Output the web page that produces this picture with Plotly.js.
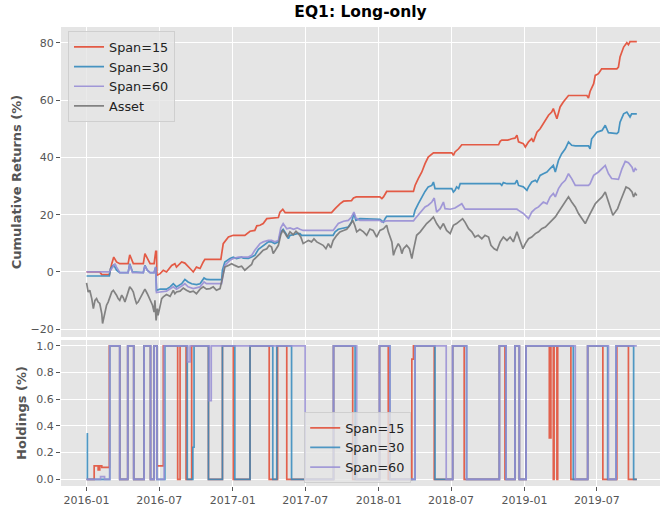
<!DOCTYPE html>
<html>
<head>
<meta charset="utf-8">
<script src="https://cdn.plot.ly/plotly-3.0.1.min.js"></script>
<style>html,body{margin:0;padding:0;background:#fff;}#chart{width:660px;height:511px;}</style>
</head>
<body>
<div id="chart"></div>
<script>
// ---------- Cumulative returns (%) ----------
var span15Dates = ['2016-01-01','2016-02-03','2016-02-08','2016-02-27','2016-03-04','2016-03-09','2016-03-16','2016-03-24','2016-04-14','2016-04-18','2016-04-27','2016-05-22','2016-05-26','2016-06-01','2016-06-08','2016-06-18','2016-06-22','2016-06-24','2016-06-25','2016-07-03','2016-07-11','2016-07-19','2016-08-01','2016-08-09','2016-08-13','2016-08-26','2016-09-03','2016-09-16','2016-09-24','2016-10-02','2016-10-11','2016-10-19','2016-10-23','2016-12-02','2016-12-08','2016-12-21','2017-01-02','2017-01-31','2017-02-13','2017-02-25','2017-03-02','2017-03-10','2017-03-18','2017-03-27','2017-04-25','2017-04-29','2017-05-06','2017-05-12','2017-09-05','2017-09-14','2017-09-26','2017-10-05','2017-10-25','2017-10-30','2017-11-06','2018-01-04','2018-01-09','2018-01-13','2018-01-21','2018-03-29','2018-04-02','2018-04-10','2018-04-19','2018-04-27','2018-05-05','2018-05-18','2018-07-03','2018-07-07','2018-07-11','2018-07-20','2018-07-28','2018-10-28','2018-11-01','2018-11-05','2018-11-20','2018-11-30','2018-12-08','2018-12-13','2018-12-17','2018-12-29','2019-01-03','2019-01-11','2019-01-19','2019-01-23','2019-02-01','2019-02-09','2019-02-17','2019-02-22','2019-03-02','2019-03-10','2019-03-14','2019-03-23','2019-03-31','2019-04-08','2019-04-17','2019-04-21','2019-06-06','2019-06-10','2019-06-14','2019-06-23','2019-06-27','2019-07-05','2019-07-13','2019-08-20','2019-08-24','2019-08-28','2019-09-06','2019-09-14','2019-09-18','2019-09-22','2019-10-09'];
var span15Ret = [0,0,-0.9,-0.9,2.9,5.2,3.5,2.9,2.9,6.0,2.9,2.9,6.4,4.7,2.9,2.9,7.2,7.2,-1.2,-0.6,0.6,0,2.3,2.9,1.7,3.5,3.1,1.2,0,1.7,1.2,3.5,4.4,4.4,9.9,12.2,12.8,12.8,14.2,14.5,16.1,16.3,16.9,18.6,19.0,20.9,21.9,20.7,20.7,22.1,23.8,24.7,24.9,25.8,26.2,26.2,25.6,26.2,28.1,28.1,30.2,32.6,34.9,37.8,40.1,41.6,41.6,40.7,41.9,43.0,44.4,44.4,45.6,46.0,46.0,46.5,46.7,47.7,45.4,44.8,43.6,45.4,46.5,45.4,48.8,50.0,51.8,52.9,54.7,55.8,57.0,53.5,57.6,59.3,61.1,61.6,61.6,60.7,63.0,65.7,68.6,69.2,70.9,70.9,71.5,75.0,78.5,80.0,79.3,80.4,80.4];

var span30Dates = ['2016-01-01','2016-02-27','2016-03-01','2016-03-08','2016-03-12','2016-03-16','2016-03-24','2016-04-14','2016-04-18','2016-04-25','2016-05-22','2016-05-26','2016-06-01','2016-06-08','2016-06-18','2016-06-22','2016-06-24','2016-07-03','2016-07-19','2016-07-28','2016-08-05','2016-08-13','2016-08-26','2016-09-03','2016-09-11','2016-09-20','2016-10-02','2016-10-11','2016-10-21','2016-10-27','2016-11-05','2016-12-04','2016-12-06','2016-12-12','2016-12-25','2017-01-02','2017-01-10','2017-01-23','2017-01-27','2017-02-09','2017-02-17','2017-02-25','2017-03-06','2017-03-18','2017-03-31','2017-04-08','2017-04-16','2017-04-25','2017-05-01','2017-05-07','2017-05-14','2017-05-20','2017-05-24','2017-06-02','2017-06-11','2017-06-18','2017-06-22','2017-09-09','2017-09-14','2017-09-22','2017-10-05','2017-10-17','2017-10-25','2017-10-31','2017-11-05','2017-11-15','2018-01-04','2018-01-09','2018-01-13','2018-01-17','2018-01-21','2018-03-29','2018-04-02','2018-04-10','2018-04-19','2018-04-27','2018-05-05','2018-05-14','2018-05-18','2018-05-22','2018-07-03','2018-07-07','2018-07-11','2018-07-15','2018-07-20','2018-07-24','2018-11-01','2018-11-05','2018-11-09','2018-11-18','2018-12-08','2018-12-13','2018-12-17','2018-12-29','2019-01-07','2019-01-11','2019-01-19','2019-01-28','2019-02-01','2019-02-09','2019-02-17','2019-02-26','2019-03-06','2019-03-14','2019-03-19','2019-03-27','2019-04-04','2019-04-13','2019-04-21','2019-04-29','2019-05-08','2019-06-10','2019-06-14','2019-06-18','2019-07-01','2019-07-14','2019-07-22','2019-07-26','2019-07-30','2019-08-20','2019-08-24','2019-08-28','2019-09-06','2019-09-14','2019-09-22','2019-09-26','2019-10-09'];
var span30Ret = [-1.4,-1.4,1.2,2.3,1.7,0.6,-0.2,-0.2,2.9,0,-0.2,2.3,0.6,-0.2,-0.2,1.7,-6.4,-6.0,-6.0,-5.2,-4.1,-5.2,-4.1,-2.6,-3.5,-4.1,-4.4,-4.1,-2.1,-2.6,-2.7,-2.7,0.6,3.5,4.7,5.2,4.7,5.2,4.8,4.7,5.2,5.8,7.9,9.3,10.5,10.5,9.9,10.5,14.0,14.9,13.4,11.6,12.8,13.0,13.4,13.4,12.8,12.8,14.0,14.9,15.4,15.7,17.4,20.4,18.0,18.6,18.4,17.7,17.4,18.6,19.4,19.4,21.5,23.8,26.2,28.1,29.7,30.2,31.4,29.1,29.1,27.9,28.5,29.7,29.1,30.8,30.8,30.2,31.2,30.8,30.8,32.0,30.2,29.7,28.5,29.7,31.4,32.0,31.4,33.7,34.3,34.9,36.1,37.2,34.9,39.0,41.3,43.0,45.4,44.2,44.0,44.0,43.0,46.5,48.8,49.4,51.2,50.0,48.6,48.3,48.8,52.3,55.2,55.8,54.1,55.2,55.2];

var span60Dates = ['2016-01-01','2016-02-27','2016-03-01','2016-03-08','2016-03-12','2016-03-16','2016-03-24','2016-04-14','2016-04-18','2016-04-25','2016-05-22','2016-05-26','2016-06-01','2016-06-08','2016-06-18','2016-06-22','2016-06-24','2016-07-03','2016-07-19','2016-08-05','2016-08-13','2016-08-26','2016-09-03','2016-09-11','2016-09-24','2016-10-11','2016-10-21','2016-10-27','2016-11-05','2016-12-04','2016-12-08','2016-12-12','2016-12-25','2017-01-02','2017-01-15','2017-02-09','2017-02-17','2017-02-25','2017-03-10','2017-03-18','2017-03-31','2017-04-08','2017-04-16','2017-04-25','2017-05-01','2017-05-07','2017-05-16','2017-05-24','2017-06-02','2017-06-11','2017-06-18','2017-06-26','2017-09-09','2017-09-14','2017-09-22','2017-10-05','2017-10-17','2017-10-25','2017-10-31','2017-11-05','2017-11-15','2018-01-04','2018-01-09','2018-01-21','2018-03-29','2018-04-02','2018-04-10','2018-04-19','2018-04-27','2018-05-05','2018-05-14','2018-05-20','2018-05-26','2018-06-04','2018-06-12','2018-06-16','2018-06-29','2018-07-11','2018-07-28','2018-08-05','2018-12-13','2018-12-17','2018-12-29','2019-01-11','2019-01-19','2019-01-28','2019-02-05','2019-02-17','2019-02-26','2019-03-06','2019-03-14','2019-03-19','2019-03-27','2019-04-04','2019-04-13','2019-04-21','2019-04-29','2019-05-08','2019-06-10','2019-06-14','2019-06-23','2019-07-05','2019-07-14','2019-07-22','2019-07-30','2019-08-07','2019-08-24','2019-09-02','2019-09-10','2019-09-18','2019-09-27','2019-10-01','2019-10-05','2019-10-09'];
var span60Ret = [0,0,0.6,2.3,2.9,1.7,-0.2,-0.2,2.6,-0.2,-0.2,2.1,0.6,-0.2,-0.2,1.7,-7.2,-7.0,-6.7,-5.2,-6.0,-4.9,-4.1,-5.2,-5.8,-5.2,-3.5,-4.1,-4.1,-4.1,-0.6,2.3,4.1,4.7,5.2,5.2,5.8,7.6,9.9,10.5,11.0,11.0,10.5,11.0,15.4,16.9,15.1,15.4,14.9,15.4,14.9,14.5,14.5,15.4,16.9,17.7,18.0,19.2,20.9,18.8,18.0,18.0,17.4,17.8,17.8,18.6,19.8,21.5,22.7,23.3,24.4,25.8,20.9,22.1,24.4,22.1,21.9,22.3,23.8,21.9,21.9,21.5,20.4,18.6,20.9,22.1,22.7,24.4,23.8,26.2,27.4,26.2,29.1,30.8,32.0,34.3,32.6,30.2,30.2,30.8,33.7,34.9,36.1,37.2,34.3,32.6,32.3,36.1,38.6,38.1,36.6,34.9,36.1,35.5];

var assetDates = ['2016-01-01','2016-01-05','2016-01-09','2016-01-14','2016-01-18','2016-01-22','2016-01-26','2016-01-30','2016-02-03','2016-02-08','2016-02-10','2016-02-16','2016-02-20','2016-02-24','2016-02-28','2016-03-04','2016-03-08','2016-03-12','2016-03-16','2016-03-20','2016-03-24','2016-03-29','2016-04-02','2016-04-06','2016-04-10','2016-04-14','2016-04-18','2016-04-23','2016-04-27','2016-05-01','2016-05-05','2016-05-09','2016-05-13','2016-05-22','2016-05-26','2016-06-01','2016-06-08','2016-06-14','2016-06-18','2016-06-20','2016-06-23','2016-06-26','2016-06-28','2016-07-03','2016-07-07','2016-07-11','2016-07-19','2016-07-28','2016-08-05','2016-08-09','2016-08-13','2016-08-22','2016-08-30','2016-09-07','2016-09-16','2016-09-24','2016-10-02','2016-10-11','2016-10-19','2016-10-27','2016-11-05','2016-11-13','2016-11-21','2016-11-30','2016-12-04','2016-12-08','2016-12-12','2016-12-21','2016-12-29','2017-01-06','2017-01-15','2017-01-23','2017-01-27','2017-01-31','2017-02-09','2017-02-17','2017-02-21','2017-03-02','2017-03-10','2017-03-18','2017-03-27','2017-04-02','2017-04-08','2017-04-12','2017-04-19','2017-04-25','2017-05-01','2017-05-06','2017-05-12','2017-05-17','2017-05-24','2017-06-01','2017-06-08','2017-06-14','2017-06-20','2017-06-26','2017-07-03','2017-07-09','2017-07-17','2017-07-23','2017-07-30','2017-08-07','2017-08-15','2017-08-22','2017-08-28','2017-09-03','2017-09-09','2017-09-18','2017-09-26','2017-10-05','2017-10-13','2017-10-21','2017-10-28','2017-11-02','2017-11-07','2017-11-15','2017-11-24','2017-12-02','2017-12-10','2017-12-18','2017-12-27','2018-01-04','2018-01-13','2018-01-21','2018-01-25','2018-02-03','2018-02-07','2018-02-11','2018-02-19','2018-02-24','2018-02-28','2018-03-04','2018-03-12','2018-03-19','2018-03-25','2018-03-29','2018-04-06','2018-04-15','2018-04-23','2018-05-01','2018-05-10','2018-05-18','2018-05-26','2018-06-04','2018-06-12','2018-06-20','2018-06-29','2018-07-07','2018-07-15','2018-07-24','2018-07-30','2018-08-05','2018-08-14','2018-08-22','2018-08-30','2018-09-07','2018-09-16','2018-09-24','2018-10-03','2018-10-09','2018-10-17','2018-10-24','2018-11-01','2018-11-09','2018-11-18','2018-11-26','2018-12-04','2018-12-13','2018-12-21','2018-12-28','2019-01-03','2019-01-11','2019-01-19','2019-01-28','2019-02-05','2019-02-13','2019-02-22','2019-03-02','2019-03-10','2019-03-19','2019-03-27','2019-04-04','2019-04-13','2019-04-21','2019-04-29','2019-05-08','2019-05-16','2019-05-24','2019-06-02','2019-06-10','2019-06-18','2019-06-27','2019-07-05','2019-07-14','2019-07-22','2019-07-26','2019-08-03','2019-08-10','2019-08-16','2019-08-22','2019-08-28','2019-09-06','2019-09-12','2019-09-20','2019-09-27','2019-10-01','2019-10-05','2019-10-09'];
var assetRet = [-3.8,-7.0,-6.4,-9.3,-12.8,-9.9,-9.3,-10.5,-11.0,-14.5,-18.0,-13.9,-11.6,-10.5,-8.7,-7.0,-6.4,-7.2,-8.1,-9.3,-9.9,-8.1,-9.0,-10.5,-8.7,-7.6,-5.2,-6.0,-7.0,-9.3,-11.0,-10.5,-9.3,-7.0,-6.0,-7.6,-9.9,-11.6,-14.0,-9.9,-16.9,-12.8,-15.1,-11.6,-9.3,-8.7,-7.9,-8.5,-6.4,-7.6,-7.0,-6.7,-5.6,-6.4,-7.0,-6.7,-7.6,-6.0,-5.2,-6.0,-5.8,-5.2,-6.4,-5.8,-3.5,-0.6,1.7,2.3,2.9,2.3,1.7,2.0,1.2,0.6,1.7,2.6,4.1,5.2,6.4,7.6,8.1,9.3,8.7,6.4,8.1,9.3,13.0,14.5,13.4,12.2,14.0,13.0,14.2,13.4,12.2,9.9,10.5,11.0,10.5,11.6,10.5,9.9,9.3,8.1,9.9,8.4,11.0,12.8,14.0,14.5,14.9,16.3,18.0,16.3,14.0,14.9,14.0,12.8,15.0,14.5,12.2,14.5,15.1,16.3,14.0,10.5,5.8,7.6,9.9,8.7,6.4,8.1,9.3,8.1,4.7,7.6,12.8,14.0,15.4,16.9,18.0,19.2,16.9,15.1,16.9,14.5,13.4,16.3,16.9,18.0,18.6,17.4,15.1,14.0,12.2,12.8,11.6,12.8,12.2,9.3,8.1,7.6,10.5,12.2,11.0,12.2,10.5,14.0,10.5,8.1,9.9,11.6,12.2,13.4,14.0,15.1,15.7,16.9,18.0,19.2,20.9,22.7,24.4,26.2,24.4,22.7,20.4,18.6,16.9,19.2,21.5,23.8,25.0,26.2,27.9,26.2,22.1,19.8,20.9,22.1,24.4,27.9,29.7,29.1,27.9,26.2,27.4,26.7];

// ---------- Holdings (fraction, changes held until next date) ----------
var hold15Dates = ['2016-01-01','2016-01-20','2016-01-30','2016-02-03','2016-02-08','2016-02-27','2016-03-24','2016-04-13','2016-04-28','2016-05-24','2016-06-09','2016-06-18','2016-06-25','2016-07-11','2016-08-16','2016-08-22','2016-09-06','2016-09-20','2016-11-01','2016-12-06','2017-01-02','2017-02-13','2017-04-02','2017-04-23','2017-05-16','2017-09-10','2017-10-28','2018-01-03','2018-01-25','2018-03-25','2018-03-29','2018-05-20','2018-07-05','2018-08-03','2018-10-30','2018-11-13','2018-12-08','2018-12-19','2019-01-05','2019-03-04','2019-03-08','2019-03-14','2019-03-16','2019-03-23','2019-03-25','2019-04-27','2019-06-08','2019-07-16','2019-08-20','2019-09-18','2019-10-09'];
var hold15Vals = [0,0.1,0.07,0.1,0.09,1,0,1,0,1,0,1,0.1,1,0,1,0,1,0,1,0,1,0,1,0,1,0,1,0,0.9,1,0,1,0,1,0,1,0,1,0.31,1,0,1,0,1,0,1,0,1,0,0];

var hold30Dates = ['2016-01-01','2016-01-03','2016-02-28','2016-03-24','2016-04-13','2016-04-28','2016-05-24','2016-06-09','2016-06-18','2016-06-25','2016-07-15','2016-09-09','2016-09-23','2016-09-26','2016-11-01','2016-12-06','2017-01-06','2017-02-13','2017-04-11','2017-04-21','2017-05-28','2017-09-10','2017-11-03','2018-01-03','2018-01-29','2018-04-02','2018-05-22','2018-07-05','2018-08-09','2018-10-30','2018-11-16','2018-12-08','2018-12-19','2019-01-05','2019-05-03','2019-06-08','2019-07-28','2019-08-18','2019-10-01','2019-10-09'];
var hold30Vals = [0.34,0,1,0,1,0,1,0,1,0,1,0,0.24,1,0,1,0,1,0,1,0,1,0,1,0,1,0,1,0,1,0,1,0,1,0,1,0,1,0,0];

var hold60Dates = ['2016-01-01','2016-02-05','2016-02-15','2016-02-28','2016-03-24','2016-04-13','2016-04-28','2016-05-24','2016-06-09','2016-06-18','2016-06-25','2016-07-13','2016-09-10','2016-09-16','2016-11-03','2016-11-08','2017-07-01','2017-09-10','2017-11-07','2018-01-03','2018-01-29','2018-04-02','2018-06-19','2018-07-05','2018-08-09','2018-10-30','2018-11-16','2018-12-08','2018-12-19','2019-01-05','2019-05-08','2019-06-08','2019-07-30','2019-08-18','2019-10-09'];
var hold60Vals = [0,0.02,0,1,0,1,0,1,0,1,0,1,0.88,1,0.59,1,0,1,0,1,0,1,0,1,0,1,0,1,0,1,0,1,0,1,1];

var colors = {s15:'#E24A33', s30:'#348ABD', s60:'#988ED5', asset:'#777777'};
var names = ['Span=15','Span=30','Span=60','Asset'];

var traces = [
  {x:span15Dates, y:span15Ret, name:names[0], line:{color:colors.s15}},
  {x:span30Dates, y:span30Ret, name:names[1], line:{color:colors.s30}},
  {x:span60Dates, y:span60Ret, name:names[2], line:{color:colors.s60}},
  {x:assetDates, y:assetRet, name:names[3], line:{color:colors.asset}}
].map(function(t){
  t.type='scatter'; t.mode='lines'; t.xaxis='x2'; t.yaxis='y'; t.opacity=0.9;
  t.line.width=1.7; t.legend='legend'; return t;
});

var holdTraces = [
  {x:hold15Dates, y:hold15Vals, name:names[0], line:{color:colors.s15}},
  {x:hold30Dates, y:hold30Vals, name:names[1], line:{color:colors.s30}},
  {x:hold60Dates, y:hold60Vals, name:names[2], line:{color:colors.s60}}
].map(function(t){
  t.type='scatter'; t.mode='lines'; t.xaxis='x'; t.yaxis='y2'; t.opacity=0.85;
  t.line.width=1.7; t.line.shape='hv'; t.legend='legend2'; return t;
});

var xRange = ['2015-10-29','2019-12-06'];
var axisCommon = {
  gridcolor:'#FFFFFF', gridwidth:1, zeroline:false, showline:false,
  ticks:'outside', ticklen:4, tickwidth:1, tickcolor:'#555555',
  tickfont:{family:'DejaVu Sans', size:11, color:'#555555'}
};
function ax(extra){ var o = JSON.parse(JSON.stringify(axisCommon)); for (var k in extra) o[k]=extra[k]; return o; }

var layout = {
  width:660, height:511,
  margin:{l:61, r:0, t:27, b:25},
  paper_bgcolor:'#FFFFFF', plot_bgcolor:'#E5E5E5',
  font:{family:'DejaVu Sans', size:11, color:'#555555'},
  showlegend:true,
  title:{text:'EQ1: Long-only', font:{family:'DejaVu Sans', size:15.5, color:'#000000', weight:'bold'},
         x:0.5, xref:'paper', xanchor:'center', y:0.9765, yref:'container', yanchor:'middle'},
  xaxis: ax({type:'date', range:xRange, anchor:'y2', tickformat:'%Y-%m', dtick:'M6', tick0:'2016-01-01'}),
  xaxis2: ax({type:'date', range:xRange, anchor:'y', matches:'x', showticklabels:false, ticks:'', dtick:'M6', tick0:'2016-01-01'}),
  yaxis: ax({domain:[0.3246,1], range:[-22.7,85.5], anchor:'x2', dtick:20, tick0:0,
             title:{text:'Cumulative Returns (%)', standoff:6, font:{family:'DejaVu Sans', size:13, color:'#555555', weight:'bold'}}}),
  yaxis2: ax({domain:[0,0.318], range:[-0.05,1.043], anchor:'x', dtick:0.2, tick0:0, tickformat:'.1f',
             title:{text:'Holdings (%)', standoff:6, font:{family:'DejaVu Sans', size:13, color:'#555555', weight:'bold'}}}),
  legend:{x:0.0117, y:0.991, xanchor:'left', yanchor:'top', bgcolor:'rgba(229,229,229,0.8)',
          bordercolor:'rgba(204,204,204,0.9)', borderwidth:1, traceorder:'normal',
          font:{family:'DejaVu Sans', size:12.8, color:'#222222'}},
  legend2:{x:0.406, y:0.1612, xanchor:'left', yanchor:'top', bgcolor:'rgba(229,229,229,0.8)',
          bordercolor:'rgba(204,204,204,0.9)', borderwidth:1, traceorder:'normal',
          font:{family:'DejaVu Sans', size:12.8, color:'#222222'}}
};

Plotly.newPlot('chart', traces.concat(holdTraces), layout, {displayModeBar:false, staticPlot:true});
</script>
</body>
</html>
